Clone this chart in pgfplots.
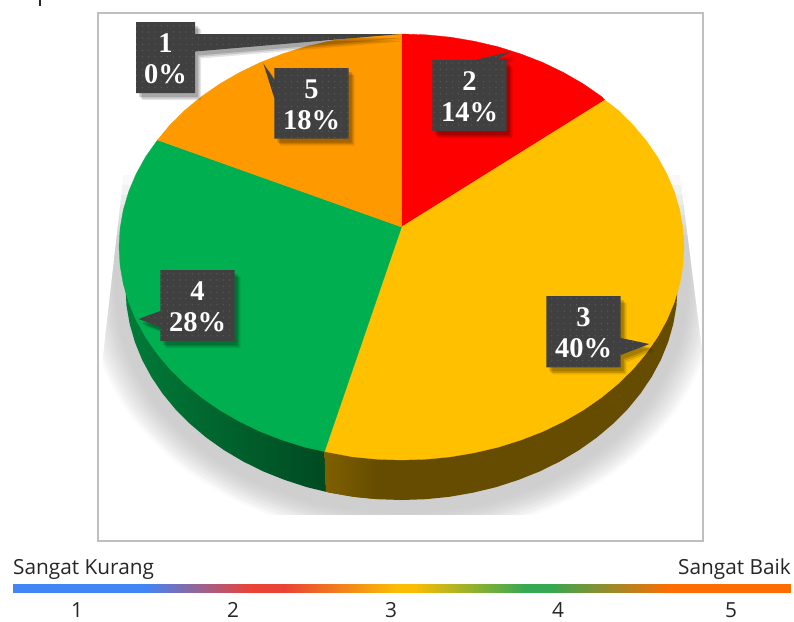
\documentclass[border=0pt]{standalone}
\usepackage{pgfplots}
\pgfplotsset{compat=1.18}
\usepackage{fontspec}
\setmainfont{Liberation Serif}
\newfontfamily\sansf{Open Sans}
\usetikzlibrary{patterns.meta}
\definecolor{cbox}{HTML}{404040}
\definecolor{cred}{HTML}{FF0000}
\definecolor{cyel}{HTML}{FFC000}
\definecolor{cgrn}{HTML}{00B050}
\definecolor{corg}{HTML}{FF9900}
\definecolor{gblue}{HTML}{4285F4}
\definecolor{gred}{HTML}{EA4335}
\definecolor{gyel}{HTML}{FBBC04}
\definecolor{ggrn}{HTML}{34A853}
\definecolor{gorg}{HTML}{FF6D01}
\newcommand{\lab}[4]{%
 \node[anchor=base,inner sep=0pt,text=white,font=\fontsize{28.5}{28.5}\selectfont\bfseries] at (axis cs:#1,#2) {#3};
 \node[anchor=base,inner sep=0pt,text=white,font=\fontsize{28.5}{28.5}\selectfont\bfseries] at (axis cs:#1,#2+31.5) {#4};}
\newcommand{\callout}[1]{%
 \addplot[draw=none,fill=black,fill opacity=.10,shift={(6pt,-7pt)}] coordinates {#1} -- cycle;
 \addplot[draw=none,fill=black,fill opacity=.13,shift={(4.5pt,-5.5pt)}] coordinates {#1} -- cycle;
 \addplot[draw=none,fill=black,fill opacity=.16,shift={(3pt,-4pt)}] coordinates {#1} -- cycle;
 \addplot[draw=none,fill=cbox] coordinates {#1} -- cycle;
 \addplot[draw=none,pattern={Dots[radius=.6pt,distance=6.2pt]},pattern color=white!18!cbox] coordinates {#1} -- cycle;}
\begin{document}
\begin{tikzpicture}
\path[use as bounding box] (0,0) rectangle (794pt,621pt);
\begin{axis}[scale only axis,width=794pt,height=621pt,hide axis,clip=false,
  xmin=0,xmax=794,ymin=0,ymax=621,y dir=reverse]
% soft shadow, outer to inner
\addplot[draw=black!2,line width=2.5pt,fill=black!4,smooth] coordinates {(87.5,170)(87.5,287)(98.2,351.7)(129.6,412)(179.5,463.8)(244.5,503.5)(320.2,528.5)(401.5,537)(482.8,528.5)(558.5,503.5)(623.5,463.8)(673.4,412)(704.8,351.7)(715.5,287)(715.5,170)};
\addplot[draw=black!5.7,line width=2.5pt,fill=black!7.5,smooth] coordinates {(92.5,170)(92.5,287)(103,350.7)(133.9,410)(183,460.9)(247,500)(321.5,524.6)(401.5,533)(481.5,524.6)(556,500)(620,460.9)(669.1,410)(700,350.7)(710.5,287)(710.5,170)};
\addplot[draw=black!9.2,line width=2.5pt,fill=black!11,smooth] coordinates {(97.5,170)(97.5,287)(107.9,349.6)(138.2,408)(186.5,458.1)(249.5,496.6)(322.8,520.8)(401.5,529)(480.2,520.8)(553.5,496.6)(616.5,458.1)(664.8,408)(695.1,349.6)(705.5,287)(705.5,170)};
\addplot[draw=black!12.5,line width=2.5pt,fill=black!14,smooth] coordinates {(103.5,170)(103.5,287)(113.7,348.6)(143.4,406)(190.8,455.3)(252.5,493.1)(324.4,516.9)(401.5,525)(478.6,516.9)(550.5,493.1)(612.2,455.3)(659.6,406)(689.3,348.6)(699.5,287)(699.5,170)};
\addplot[draw=black!15.5,line width=2.5pt,fill=black!17,smooth] coordinates {(108.5,170)(108.5,287)(118.5,347.3)(147.8,403.5)(194.3,451.8)(255,488.8)(325.7,512.1)(401.5,520)(477.3,512.1)(548,488.8)(608.7,451.8)(655.2,403.5)(684.5,347.3)(694.5,287)(694.5,170)};
\addplot[draw=black!18,line width=2.5pt,fill=black!19,smooth] coordinates {(113.5,170)(113.5,287)(123.3,346)(152.1,401)(197.9,448.2)(257.5,484.4)(327,507.2)(401.5,515)(476,507.2)(545.5,484.4)(605.1,448.2)(650.9,401)(679.7,346)(689.5,287)(689.5,170)};
% white masks that trim the shadow
\addplot[draw=none,fill=white] coordinates {(80,100)(725,100)(725,175)(80,175)} -- cycle;
\addplot[draw=none,fill=white,fill opacity=.88] coordinates {(80,175)(725,175)(725,185)(80,185)} -- cycle;
\addplot[draw=none,fill=white,fill opacity=.74] coordinates {(80,185)(725,185)(725,195)(80,195)} -- cycle;
\addplot[draw=none,fill=white,fill opacity=.6] coordinates {(80,195)(725,195)(725,205)(80,205)} -- cycle;
\addplot[draw=none,fill=white,fill opacity=.45] coordinates {(80,205)(725,205)(725,215)(80,215)} -- cycle;
\addplot[draw=none,fill=white,fill opacity=.3] coordinates {(80,215)(725,215)(725,225)(80,225)} -- cycle;
\addplot[draw=none,fill=white,fill opacity=.15] coordinates {(80,225)(725,225)(725,235)(80,235)} -- cycle;
\addplot[draw=none,fill=white] coordinates {(80,175)(123.5,175)(102.5,360)(102.5,560)(80,560)} -- cycle;
\addplot[draw=none,fill=white] coordinates {(725,175)(680,175)(702,350)(702,560)(725,560)} -- cycle;
\addplot[draw=none,fill=white] coordinates {(80,515)(725,515)(725,560)(80,560)} -- cycle;
% frame
\addplot[draw={rgb,255:red,191;green,191;blue,191},line width=1.6pt,fill=none] coordinates {(98,13)(702.7,13)(702.7,540.7)(98,540.7)} -- cycle;
% cut-off stroke of a line above the picture
\addplot[draw=none,fill=black!85] coordinates {(38.5,0)(41,0)(41,5.5)(38.5,5.5)} -- cycle;
% side of the pie
\addplot[draw=none,left color=black!30!cgrn,middle color=black!42!cgrn,right color=black!58!cgrn] coordinates {(125.5,287)(126.5,305.6)(129.7,324)(134.9,342.1)(142.1,359.8)(151.4,377)(162.5,393.5)(175.4,409.2)(190.1,423.9)(206.3,437.6)(224.1,450.2)(243.2,461.5)(263.5,471.5)(284.9,480)(307.1,487.2)(326,491.8)(324.5,451.5)} -- cycle;
\addplot[draw=none,fill={rgb,255:red,102;green,76;blue,0}] coordinates {(324.5,451.5)(326,491.8)(330.1,492.7)(353.6,496.8)(377.4,499.2)(401.5,500)(425.6,499.2)(449.4,496.8)(472.9,492.7)(495.9,487.2)(518.1,480)(539.5,471.5)(559.8,461.5)(578.9,450.2)(596.7,437.6)(612.9,423.9)(627.6,409.2)(640.5,393.5)(651.6,377)(660.9,359.8)(668.1,342.1)(673.3,324)(676.5,305.6)(677.5,287)} -- cycle;
\addplot[draw=none,left color={rgb,255:red,127;green,96;blue,0},right color={rgb,255:red,102;green,76;blue,0}] coordinates {(324.5,451.5)(326,491.8)(330.1,492.7)(353.6,496.8)(377.4,499.2)(377.4,455)} -- cycle;
% top face
\addplot[draw=cred,line width=.3pt,fill=cred] coordinates {(401.5,227)(401.5,34)(426.1,34.8)(450.5,37.2)(474.6,41.3)(498.1,46.8)(520.9,54)(542.8,62.5)(563.5,72.5)(583.1,83.8)(601.3,96.4)(605,100)} -- cycle;
\addplot[draw=cyel,line width=.3pt,fill=cyel] coordinates {(401.5,227)(605,100)(617.9,110.1)(632.9,124.8)(646.1,140.5)(657.5,157)(667,174.2)(674.4,191.9)(679.7,210)(682.9,228.4)(684,247)(682.9,265.6)(679.7,284)(674.4,302.1)(667,319.8)(657.5,337)(646.1,353.5)(632.9,369.2)(617.9,383.9)(601.3,397.6)(583.1,410.2)(563.5,421.5)(542.8,431.5)(520.9,440)(498.1,447.2)(474.6,452.7)(450.5,456.8)(426.1,459.2)(401.5,460)(376.9,459.2)(352.5,456.8)(324.5,451.5)} -- cycle;
\addplot[draw=cgrn,line width=.3pt,fill=cgrn] coordinates {(401.5,227)(324.5,451.5)(304.9,447.2)(282.1,440)(260.2,431.5)(239.5,421.5)(219.9,410.2)(201.7,397.6)(185.1,383.9)(170.1,369.2)(156.9,353.5)(145.5,337)(136,319.8)(128.6,302.1)(123.3,284)(120.1,265.6)(119,247)(120.1,228.4)(123.3,210)(128.6,191.9)(136,174.2)(145.5,157)(157.5,140)} -- cycle;
\addplot[draw=corg,line width=.3pt,fill=corg] coordinates {(401.5,227)(157.5,140)(170.1,124.8)(185.1,110.1)(201.7,96.4)(219.9,83.8)(239.5,72.5)(260.2,62.5)(282.1,54)(304.9,46.8)(328.4,41.3)(352.5,37.2)(376.9,34.8)(401.5,34)} -- cycle;
% callouts
\callout{(136,22)(195,22)(195,34)(401,34)(195,51.5)(195,93)(136,93)}
\callout{(274.3,68)(348.7,68)(348.7,138.7)(274.3,138.7)(274.3,98)(263.3,63.3)(274.3,80)}
\callout{(432.3,60)(475,60)(510,51.7)(496.7,60)(506.7,60)(506.7,131)(432.3,131)}
\callout{(546.3,296)(620.7,296)(620.7,338)(649.3,344)(620.7,355)(620.7,367.3)(546.3,367.3)}
\callout{(160.3,270)(234.7,270)(234.7,341)(160.3,341)(160.3,327)(138.7,319)(160.3,311)}
\lab{165.5}{52}{1}{0\%}
\lab{311.5}{98}{5}{18\%}
\lab{469.5}{90}{2}{14\%}
\lab{583.5}{326}{3}{40\%}
\lab{197.5}{300}{4}{28\%}
% colour bar
\addplot[draw=none,fill=gblue] coordinates {(13,584.3)(146,584.3)(146,592.7)(13,592.7)} -- cycle;
\addplot[draw=none,left color=gblue,right color=gred] coordinates {(145.5,584.3)(250.5,584.3)(250.5,592.7)(145.5,592.7)} -- cycle;
\addplot[draw=none,fill=gred] coordinates {(250,584.3)(285,584.3)(285,592.7)(250,592.7)} -- cycle;
\addplot[draw=none,left color=gred,right color=gyel] coordinates {(284.5,584.3)(395.5,584.3)(395.5,592.7)(284.5,592.7)} -- cycle;
\addplot[draw=none,fill=gyel] coordinates {(395,584.3)(414,584.3)(414,592.7)(395,592.7)} -- cycle;
\addplot[draw=none,left color=gyel,right color=ggrn] coordinates {(413.5,584.3)(525.5,584.3)(525.5,592.7)(413.5,592.7)} -- cycle;
\addplot[draw=none,fill=ggrn] coordinates {(525,584.3)(550,584.3)(550,592.7)(525,592.7)} -- cycle;
\addplot[draw=none,left color=ggrn,right color=gorg] coordinates {(549.5,584.3)(670.5,584.3)(670.5,592.7)(549.5,592.7)} -- cycle;
\addplot[draw=none,fill=gorg] coordinates {(670,584.3)(791,584.3)(791,592.7)(670,592.7)} -- cycle;
% bar labels
\node[anchor=base west,inner sep=0pt,font=\fontsize{20.8}{20.8}\selectfont\sansf,text=black!85] at (axis cs:13,574) {Sangat Kurang};
\node[anchor=base east,inner sep=0pt,font=\fontsize{20.8}{20.8}\selectfont\sansf,text=black!85] at (axis cs:791,574) {Sangat Baik};
\node[anchor=base,inner sep=0pt,font=\fontsize{20.8}{20.8}\selectfont\sansf,text=black!85] at (axis cs:77,617.5) {1};
\node[anchor=base,inner sep=0pt,font=\fontsize{20.8}{20.8}\selectfont\sansf,text=black!85] at (axis cs:233,617.5) {2};
\node[anchor=base,inner sep=0pt,font=\fontsize{20.8}{20.8}\selectfont\sansf,text=black!85] at (axis cs:391,617.5) {3};
\node[anchor=base,inner sep=0pt,font=\fontsize{20.8}{20.8}\selectfont\sansf,text=black!85] at (axis cs:558,617.5) {4};
\node[anchor=base,inner sep=0pt,font=\fontsize{20.8}{20.8}\selectfont\sansf,text=black!85] at (axis cs:731,617.5) {5};
\end{axis}
\end{tikzpicture}
\end{document}
